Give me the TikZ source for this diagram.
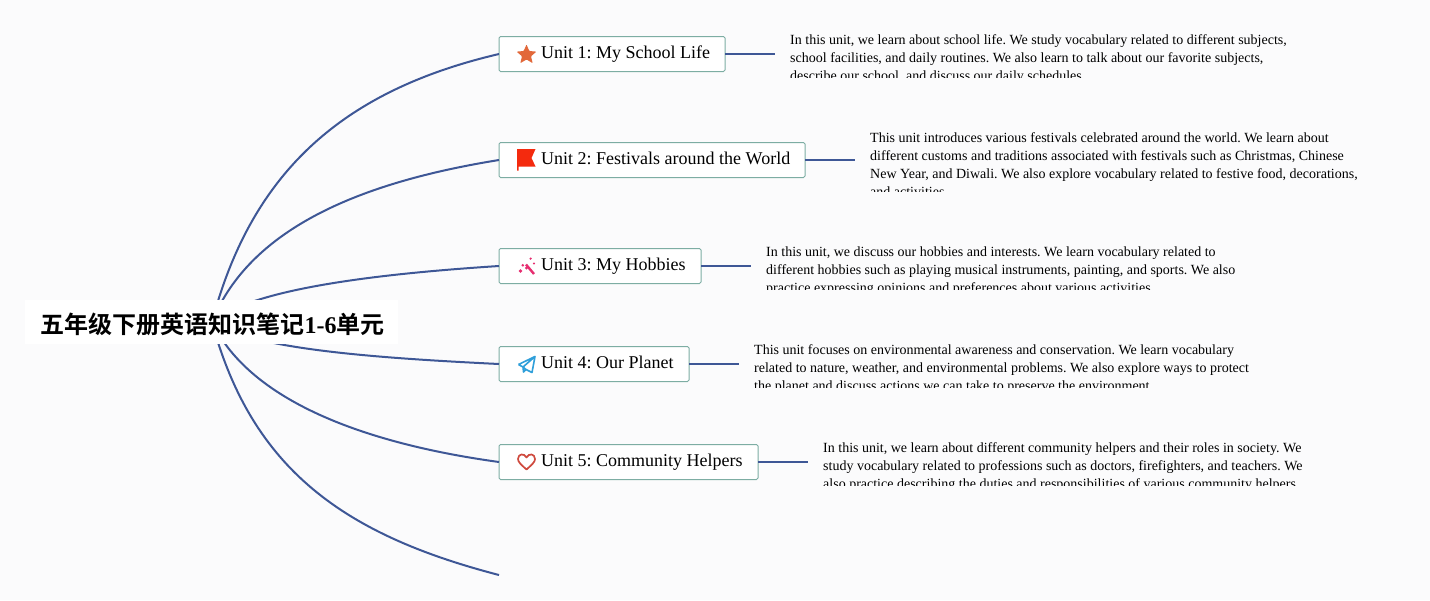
\documentclass[tikz,border=0pt]{standalone}
\usepackage{fontspec}
\setmainfont{Liberation Serif}
\newfontfamily\cjkfont[BoldFont={Noto Sans CJK SC Bold}]{Noto Sans CJK SC}
\frenchspacing
\definecolor{pagebg}{HTML}{FBFBFC}
\definecolor{linkblue}{HTML}{3E5796}
\definecolor{boxedge}{HTML}{7DADA3}
\definecolor{staror}{HTML}{E2683A}
\definecolor{flagred}{HTML}{F42A0E}
\definecolor{wandpink}{HTML}{E62E70}
\definecolor{planeblue}{HTML}{2F9FDA}
\definecolor{heartred}{HTML}{CF4A3E}
\tikzset{
  unitbox/.style={draw=boxedge,fill=white,line width=1pt,rounded corners=1.5pt,anchor=west,minimum height=35pt,inner sep=0pt,outer sep=0pt},
  unitlabel/.style={anchor=base west,inner sep=0pt,font=\fontsize{18}{22}\selectfont\frenchspacing,text=black},
  desc/.style={anchor=north west,inner sep=0pt,align=left,font=\fontsize{14}{18}\selectfont\frenchspacing,text=black},
  link/.style={draw=linkblue,line width=2pt},
  rootbox/.style={fill=white,inner sep=0pt,minimum width=373pt,minimum height=44pt,anchor=west}
}
\begin{document}
\begin{tikzpicture}[x=1pt,y=-1pt]
\path[fill=pagebg,use as bounding box] (0,0) rectangle (1430,600);
% hub and free end
\coordinate (hub) at (212,322);
\coordinate (end6) at (499,575);
% unit boxes
\node[unitbox,minimum width=226pt] (u1) at (499,54) {};
\node[unitbox,minimum width=306pt] (u2) at (499,160) {};
\node[unitbox,minimum width=202pt] (u3) at (499,266) {};
\node[unitbox,minimum width=190pt] (u4) at (499,364) {};
\node[unitbox,minimum width=259pt] (u5) at (499,462) {};
% connector ends
\coordinate (e1) at (775,54);
\coordinate (e2) at (855,160);
\coordinate (e3) at (751,266);
\coordinate (e4) at (739,364);
\coordinate (e5) at (808,462);
% curves
\draw[link] (hub) .. controls (252,170) and (345,90) .. (u1.west);
\draw[link] (hub) .. controls (252,222) and (375,180) .. (u2.west);
\draw[link] (hub) .. controls (252,289) and (375,274) .. (u3.west);
\draw[link] (hub) .. controls (252,349) and (375,358) .. (u4.west);
\draw[link] (hub) .. controls (252,405) and (375,445) .. (u5.west);
\draw[link] (hub) .. controls (252,470) and (345,535) .. (end6);
\draw[link] (u1.east) -- (e1);
\draw[link] (u2.east) -- (e2);
\draw[link] (u3.east) -- (e3);
\draw[link] (u4.east) -- (e4);
\draw[link] (u5.east) -- (e5);
% root
\node[rootbox] (root) at (25,322) {};
\node[anchor=base west,inner sep=0pt,font=\fontsize{24}{28}\selectfont\bfseries] (roottext) at (40.5,333)
  {{\cjkfont 五年级下册英语知识笔记}1-6{\cjkfont 单元}};
% unit labels
\node[unitlabel] (l1) at (541,58) {Unit 1: My School Life};
\node[unitlabel] (l2) at (541,164) {Unit 2: Festivals around the World};
\node[unitlabel] (l3) at (541,270) {Unit 3: My Hobbies};
\node[unitlabel] (l4) at (541,368) {Unit 4: Our Planet};
\node[unitlabel] (l5) at (541,466) {Unit 5: Community Helpers};
% icons
\fill[staror,rounded corners=0.8pt] (526.5,44.5) -- (529.3,51) -- (536.4,51.6) -- (531,56.3) -- (532.7,63.2) -- (526.5,59.5) -- (520.3,63.2) -- (522,56.3) -- (516.6,51.6) -- (523.7,51) -- cycle;
\fill[flagred] (517,149) -- (535.5,149) -- (531.5,158) -- (535.5,166.5) -- (518.5,166.5) -- (518.5,170.5) -- (517,170.5) -- cycle;
\draw[wandpink,line width=2.4pt] (526,264.5) -- (534,274);
\draw[wandpink,line width=2pt] (530,258) -- (531.2,259.2);
\draw[wandpink,line width=2pt] (522,264.5) -- (523.5,266);
\fill[wandpink] (520.5,271) circle (1.9) (526.5,268) circle (1.6) (534,263.5) circle (1.2);
\draw[planeblue,line width=1.6pt,line join=round] (518.5,364.5) -- (535,356.5) -- (532,372.5) -- (526,369.5) -- (523.5,372) -- (523,367) -- (535,356.5) (518.5,364.5) -- (523,367) (526,369.5) -- (523,367);
\draw[heartred,line width=1.7pt,line join=round] (526.5,469.5) .. controls (521,464.5) and (518,462) .. (518,459) .. controls (518,453.5) and (524.5,453) .. (526.5,457.5) .. controls (528.5,453) and (535,453.5) .. (535,459) .. controls (535,462) and (532,464.5) .. (526.5,469.5) -- cycle;
% descriptions
\begin{scope}
\clip (785,25) rectangle (1300,77.3);
\node[desc] (d1) at (790,34.5) {In this unit, we learn about school life. We study vocabulary related to different subjects,\\school facilities, and daily routines. We also learn to talk about our favorite subjects,\\describe our school, and discuss our daily schedules.};
\end{scope}
\begin{scope}
\clip (865,125) rectangle (1380,191);
\node[desc] (d2) at (870,132.5) {This unit introduces various festivals celebrated around the world. We learn about\\different customs and traditions associated with festivals such as Christmas, Chinese\\New Year, and Diwali. We also explore vocabulary related to festive food, decorations,\\and activities.};
\end{scope}
\begin{scope}
\clip (760,235) rectangle (1280,289.3);
\node[desc] (d3) at (766,246.5) {In this unit, we discuss our hobbies and interests. We learn vocabulary related to\\different hobbies such as playing musical instruments, painting, and sports. We also\\practice expressing opinions and preferences about various activities.};
\end{scope}
\begin{scope}
\clip (750,335) rectangle (1280,387.3);
\node[desc] (d4) at (754,344.5) {This unit focuses on environmental awareness and conservation. We learn vocabulary\\related to nature, weather, and environmental problems. We also explore ways to protect\\the planet and discuss actions we can take to preserve the environment.};
\end{scope}
\begin{scope}
\clip (818,430) rectangle (1330,485.3);
\node[desc] (d5) at (823,442.5) {In this unit, we learn about different community helpers and their roles in society. We\\study vocabulary related to professions such as doctors, firefighters, and teachers. We\\also practice describing the duties and responsibilities of various community helpers.};
\end{scope}
\end{tikzpicture}
\end{document}
